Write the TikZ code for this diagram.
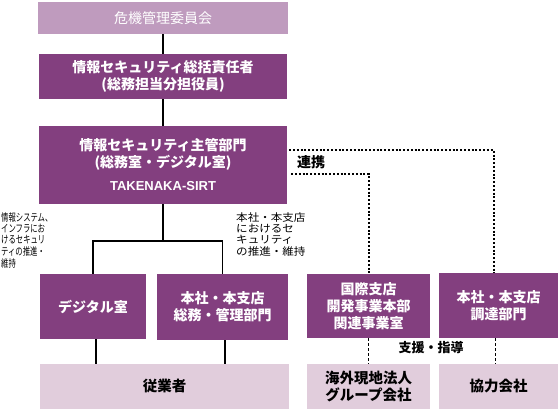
\documentclass[tikz,border=0pt]{standalone}
\usepackage{fontspec}
\usepackage{graphicx}
\setmainfont{Noto Sans CJK JP}
\newfontfamily\latf{Liberation Sans}
\usepackage{tikz}
\usetikzlibrary{calc}
\definecolor{plum}{RGB}{131,63,127}
\definecolor{plumlt}{RGB}{191,155,190}
\definecolor{pinklt}{RGB}{225,205,220}
\tikzset{
  box/.style ={fill=plum,text=white,align=center,inner sep=0pt,font=\bfseries\fontsize{14}{17}\selectfont},
  top/.style ={box,fill=plumlt,font=\fontsize{14}{17}\selectfont},
  low/.style ={box,fill=pinklt,text=black,font=\bfseries\fontsize{14.5}{17}\selectfont},
  note/.style={inner sep=0pt,anchor=north west,font=\fontsize{10.5}{10}\selectfont},
  lbl/.style ={inner sep=0pt,font=\bfseries\fontsize{13}{13}\selectfont},
  link/.style={line width=1.8pt},
  coop/.style={line width=2pt,dash pattern=on 2pt off 1.8pt},
  help/.style={line width=0.9pt,dash pattern=on 3pt off 2pt},
}

\begin{document}
\begin{tikzpicture}[x=1pt,y=1pt]
  \useasboundingbox (0,0) rectangle (559,409);
  % chain of command
  \node[top,minimum width=250pt,minimum height=32pt] (crisis) at (163,391){危機管理委員会};
  \node[box,minimum width=248pt,minimum height=45pt] (head) at (163,332.5){情報セキュリティ総括責任者\\(総務担当分担役員)};
  \node[box,minimum width=248pt,minimum height=78pt] (sirt) at (163,244){情報セキュリティ主管部門\\(総務室・デジタル室)\\[6pt]{\latf\bfseries\fontsize{13}{13}\selectfont TAKENAKA-SIRT}};
  % departments
  \node[box,minimum width=106pt,minimum height=65pt] (dig) at (93,102.5){デジタル室};
  \node[box,minimum width=131pt,minimum height=66pt] (gen) at (222.5,102){本社・本支店\\総務・管理部門};
  \node[box,minimum width=123pt,minimum height=64pt] (intl) at (368.5,103){国際支店\\開発事業本部\\関連事業室};
  \node[box,minimum width=119pt,minimum height=65pt] (proc) at (498.5,103.5){本社・本支店\\調達部門};
  % bottom row
  \node[low,minimum width=249pt,minimum height=45pt] (emp) at (164.5,22.5){従業者};
  \node[low,minimum width=123pt,minimum height=45pt] (sub) at (368.5,22.5){海外現地法人\\グループ会社};
  \node[low,minimum width=119pt,minimum height=45pt] (coopco) at (498.5,22.5){協力会社};
  % side notes
  \node[note] (noteL) at (1,197){\scalebox{0.7}[1]{\begin{tabular}{@{}l@{}}情報システム、\\インフラにお\\けるセキュリ\\ティの推進・\\維持\end{tabular}}};
  \node[note] (noteR) at (236,197){\scalebox{1.1}[1]{\begin{tabular}{@{}l@{}}本社・本支店\\におけるセ\\キュリティ\\の推進・維持\end{tabular}}};
  \node[lbl,font=\bfseries\fontsize{14}{14}\selectfont] (renkei) at (311,247){連携};
  \node[lbl] (shien) at (431,61){支援・指導};
  % solid lines
  \draw[link] (crisis) -- (head);
  \draw[link] (head) -- (sirt);
  \draw[link] (sirt.south) -- ++(0,-37) coordinate (fork);
  \draw[link] (dig.north) |- (fork) -| (gen.north);
  \draw[link] ([xshift=3pt]dig.south) -- ([xshift=3pt]dig.south |- emp.north);
  \draw[link] ([xshift=2.5pt]gen.south) -- ([xshift=2.5pt]gen.south |- emp.north);
  % dotted cooperation lines
  \draw[coop] ([xshift=2pt,yshift=15pt]sirt.east) -| ([xshift=-5pt]proc.north);
  \draw[coop] ([xshift=4pt,yshift=-9pt]sirt.east) -| (intl.north);
  % support lines
  \draw[help] (intl.south) -- (intl.south |- sub.north);
  \draw[help] ([xshift=-3.5pt]proc.south) -- ([xshift=-3.5pt]proc.south |- coopco.north);
\end{tikzpicture}
\end{document}
